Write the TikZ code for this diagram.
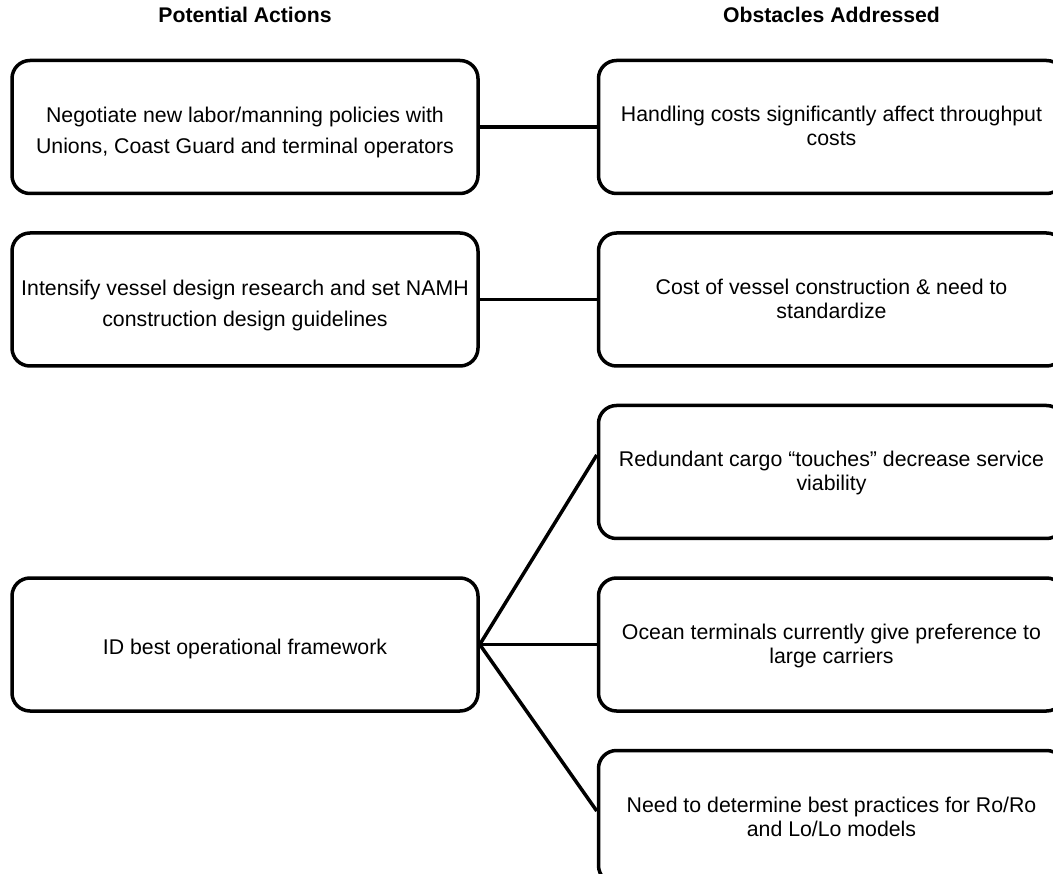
\documentclass[tikz,border=0pt]{standalone}
\usepackage{fontspec}
\setmainfont{Liberation Sans}
\usetikzlibrary{positioning}

\begin{document}
\begin{tikzpicture}[
  x=1pt, y=1pt,
  node distance=36pt and 117pt,
  box/.style={draw, rectangle, rounded corners=18pt, line width=3.5pt, align=center, minimum width=466pt, minimum height=133pt, inner sep=0pt,
    execute at end node={\rule[-4.5pt]{0pt}{0pt}}},
  lift/.style={execute at begin node={\rule{0pt}{#1}}},
  action/.style={box, font=\fontsize{21.3}{31}\selectfont},
  obstacle/.style={box, lift=42.5pt, font=\fontsize{21.3}{24}\selectfont},
  header/.style={font=\bfseries\fontsize{21.2}{26}\selectfont, inner sep=0pt},
  link/.style={line width=3.5pt, line join=round}
]
\useasboundingbox (0,0) rectangle (1053,-874);

% Potential actions
\node[action, lift=58.5pt] (negotiate) at (245,-127) {Negotiate new labor/manning policies with\\Unions, Coast Guard and terminal operators};
\node[action, lift=58.5pt, below=of negotiate] (design) {Intensify vessel design research and set NAMH\\construction design guidelines};

% Obstacles addressed
\node[obstacle, right=of negotiate] (handling) {Handling costs significantly affect throughput\\costs};
\node[obstacle, right=of design] (cost) {Cost of vessel construction \& need to\\standardize};
\node[obstacle, below=of cost] (redundant) {Redundant cargo “touches” decrease service\\viability};
\node[obstacle, below=of redundant] (ocean) {Ocean terminals currently give preference to\\large carriers};
\node[obstacle, below=of ocean] (practices) {Need to determine best practices for Ro/Ro\\and Lo/Lo models};

% Framework action
\node[action, lift=24.5pt, left=of ocean] (framework) {ID best operational framework};

% Headers
\node[header, above=36pt of negotiate] (actions) {Potential Actions};
\node[header, above=36pt of handling] (obstacles) {Obstacles Addressed};

% Links
\draw[link] (negotiate) -- (handling);
\draw[link] (design) -- (cost);
\draw[link] (framework.east) -- ([yshift=17pt]redundant.west);
\draw[link] (framework.east) -- (ocean.west);
\draw[link] (framework.east) -- ([yshift=6pt]practices.west);

\end{tikzpicture}
\end{document}
